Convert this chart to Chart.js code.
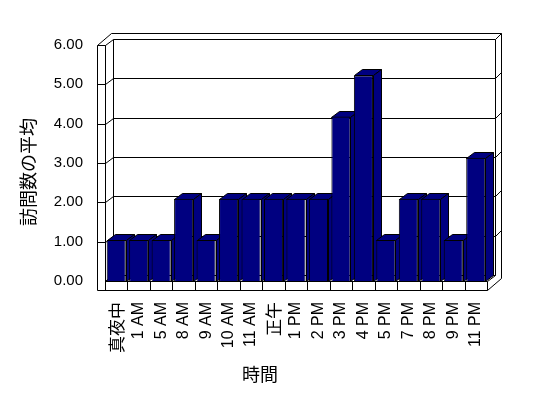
<!DOCTYPE html>
<html>
<head>
<meta charset="utf-8">
<script src="https://cdn.jsdelivr.net/npm/chart.js@4.4.1/dist/chart.umd.min.js"></script>
<style>
  html, body { margin: 0; padding: 0; background: #fff; }
  canvas { display: block; }
</style>
</head>
<body>
<canvas id="grafico" width="548" height="398"></canvas>
<script>
// Datos del gráfico
const categorias = ['真夜中', '1 AM', '5 AM', '8 AM', '9 AM', '10 AM', '11 AM', '正午',
  '1 PM', '2 PM', '3 PM', '4 PM', '5 PM', '7 PM', '8 PM', '9 PM', '11 PM'];
const promedioVisitas = [1, 1, 1, 2, 1, 2, 2, 2, 2, 2, 4, 5, 1, 2, 2, 1, 3];
const ejeY = { min: 0, max: 6, paso: 1 };

// Apariencia 3D (estilo Excel)
const PROF_X = 8, PROF_Y = -6;   // vector de profundidad
const MURO = 8, SUELO = 9, FONDO = 6;
const AZUL = '#000080';
// las barras quedan más cerca del observador: escala algo mayor que la del eje
const MAX_BARRAS = 5.74;

const FUENTE = '"Liberation Sans", Arial, "Noto Sans CJK JP", sans-serif';
const FUENTE_JP = '"Noto Sans CJK JP", sans-serif';

function linea(ctx, pts) {
  ctx.beginPath();
  ctx.moveTo(pts[0][0], pts[0][1]);
  for (let i = 1; i < pts.length; i++) ctx.lineTo(pts[i][0], pts[i][1]);
  ctx.stroke();
}

function poligono(ctx, pts, relleno) {
  ctx.beginPath();
  ctx.moveTo(pts[0][0], pts[0][1]);
  for (let i = 1; i < pts.length; i++) ctx.lineTo(pts[i][0], pts[i][1]);
  ctx.closePath();
  if (relleno) { ctx.fillStyle = relleno; ctx.fill(); }
  ctx.stroke();
}

// Dibuja paredes, suelo, rejilla y los laterales de las barras
const plugin3D = {
  id: 'plugin3D',
  beforeDatasetsDraw(chart) {
    const ctx = chart.ctx;
    const { left: L, right: R, top: T, bottom: B } = chart.chartArea;
    const ys = chart.scales.y;
    const xs = chart.scales.x;
    ctx.save();
    ctx.strokeStyle = '#000';
    ctx.lineWidth = 1;
    ctx.translate(0.5, 0.5);

    // silueta exterior
    poligono(ctx, [
      [L - MURO, T],
      [L - MURO + PROF_X + FONDO, T + PROF_Y - FONDO],
      [R + PROF_X + FONDO, T + PROF_Y - FONDO],
      [R + PROF_X + FONDO, B + SUELO + PROF_Y - FONDO],
      [R, B + SUELO],
      [L - MURO, B + SUELO]
    ], '#fff');

    // pared izquierda y fondo
    linea(ctx, [[L, T], [L, B + SUELO]]);
    linea(ctx, [[L - MURO, T], [L, T]]);
    poligono(ctx, [[L, T], [L + PROF_X, T + PROF_Y], [L + PROF_X, B + PROF_Y], [L, B]]);
    linea(ctx, [[L + PROF_X, T + PROF_Y], [R + PROF_X, T + PROF_Y], [R + PROF_X, B + PROF_Y]]);
    linea(ctx, [[R + PROF_X, T + PROF_Y], [R + PROF_X + FONDO, T + PROF_Y - FONDO]]);

    // suelo
    poligono(ctx, [[L, B], [R, B], [R + PROF_X, B + PROF_Y], [L + PROF_X, B + PROF_Y]]);
    linea(ctx, [[R, B], [R, B + SUELO]]);
    for (let i = 1; i < categorias.length; i++) {
      const x = Math.round((xs.getPixelForValue(i - 1) + xs.getPixelForValue(i)) / 2);
      linea(ctx, [[x, B], [x, B + SUELO]]);
    }

    // rejilla
    for (let v = ejeY.min + ejeY.paso; v < ejeY.max; v += ejeY.paso) {
      const yf = Math.round(ys.getPixelForValue(v));
      const yb = yf + PROF_Y;
      linea(ctx, [[L - MURO, yf], [L, yf], [L + PROF_X, yb], [R + PROF_X, yb]]);
      linea(ctx, [[R + PROF_X, yb], [R + PROF_X + FONDO, yb - FONDO]]);
    }

    // laterales y tapas de las barras
    const meta = chart.getDatasetMeta(0);
    meta.data.forEach(bar => {
      const p = bar.getProps(['x', 'y', 'base', 'width'], true);
      const l = Math.round(p.x - p.width / 2), r = Math.round(p.x + p.width / 2);
      const t = Math.round(p.y), b = Math.round(p.base);
      poligono(ctx, [[l, t], [l + PROF_X, t + PROF_Y], [r + PROF_X, t + PROF_Y], [r, t]], AZUL);
      poligono(ctx, [[r, t], [r + PROF_X, t + PROF_Y], [r + PROF_X, b + PROF_Y], [r, b]], AZUL);
    });
    ctx.restore();
  }
};

new Chart(document.getElementById('grafico'), {
  type: 'bar',
  data: {
    labels: categorias,
    datasets: [{
      label: '訪問数の平均',
      data: promedioVisitas,
      yAxisID: 'yb',
      backgroundColor: AZUL,
      borderColor: '#000',
      borderWidth: 1,
      barPercentage: 0.85,
      categoryPercentage: 1.0
    }]
  },
  options: {
    responsive: false,
    animation: false,
    layout: { padding: { left: 0, right: 61, top: 45, bottom: 0 } },
    scales: {
      x: {
        grid: { display: false, drawTicks: false },
        border: { display: false },
        ticks: {
          autoSkip: false,
          minRotation: 90,
          maxRotation: 90,
          padding: 21,
          color: '#000',
          font: c => {
            const txt = c.tick ? String(c.tick.label) : '';
            return /[^\x00-\x7F]/.test(txt)
              ? { family: FUENTE_JP, size: 17 }
              : { family: FUENTE, size: 16 };
          }
        },
        title: {
          display: true,
          text: '時間　　　　',
          color: '#000',
          font: { family: FUENTE_JP, size: 18 },
          padding: { top: 0, bottom: 13 }
        },
        afterFit(scale) { scale.height = 117; }
      },
      y: {
        position: 'left',
        min: ejeY.min,
        max: ejeY.max,
        grid: { display: false, drawTicks: false },
        border: { display: false },
        ticks: {
          stepSize: ejeY.paso,
          padding: 22,
          color: '#000',
          font: { family: FUENTE, size: 15 },
          callback: v => Number(v).toFixed(2)
        },
        title: {
          display: true,
          text: '訪問数の平均　',
          color: '#000',
          font: { family: FUENTE_JP, size: 18 },
          padding: { top: 17, bottom: 0 }
        },
        afterFit(scale) { scale.width = 105; }
      },
      yb: {
        display: false,
        min: 0,
        max: MAX_BARRAS
      }
    },
    plugins: {
      legend: { display: false },
      tooltip: { enabled: false }
    }
  },
  plugins: [plugin3D]
});
</script>
</body>
</html>
